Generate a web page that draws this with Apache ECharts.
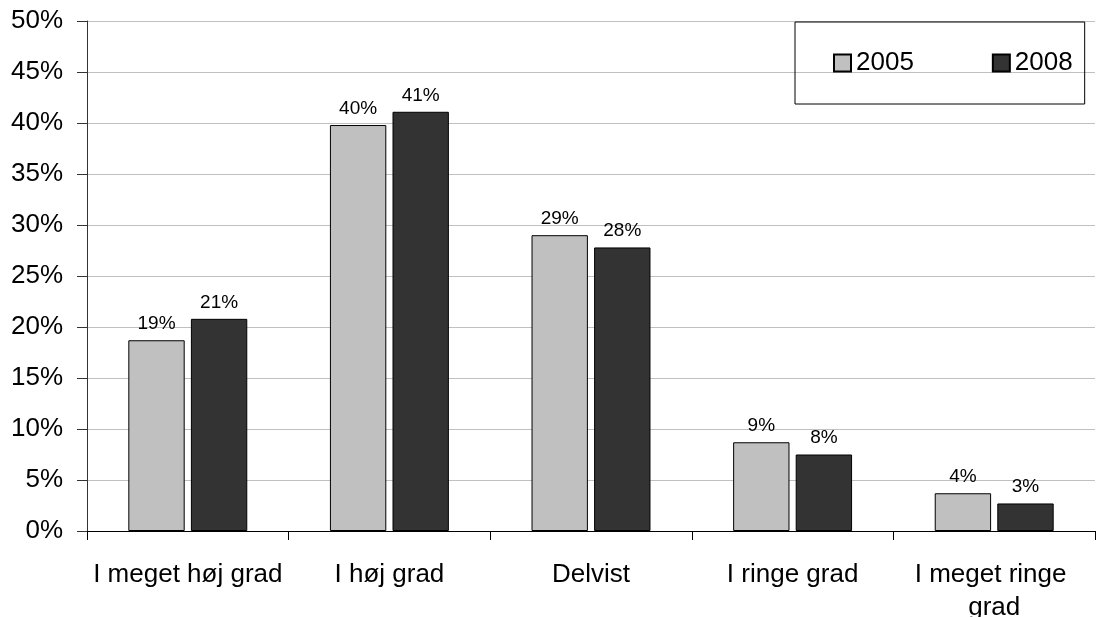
<!DOCTYPE html>
<html>
<head>
<meta charset="utf-8">
<script src="https://cdn.jsdelivr.net/npm/echarts@6/dist/echarts.min.js"></script>
<style>
  html, body { margin: 0; padding: 0; background: #fff; }
  #chart { width: 1099px; height: 617px; }
</style>
</head>
<body>
<div id="chart"></div>
<script>
// categories and values (percent)
var categories = ["I meget høj grad", "I høj grad", "Delvist", "I ringe grad", "I meget ringe grad"];
var seriesNames = ["2005", "2008"];
var values2005 = [18.7, 39.8, 29.0, 8.7, 3.7];
var values2008 = [20.8, 41.1, 27.8, 7.5, 2.7];
var colors = ["#c0c0c0", "#333333"];

var font = "Liberation Sans, Arial, sans-serif";

function makeSeries(name, data, color) {
	return {
		name: name,
		type: "bar",
		data: data,
		barGap: "11%",
		barCategoryGap: "41%",
		itemStyle: {
			color: color,
			borderColor: "#000",
			borderWidth: 1,
		},
		label: {
			show: true,
			position: "top",
			distance: 7,
			color: "#000",
			fontSize: 19,
			fontFamily: font,
			formatter: function (p) {
				return Math.round(p.value) + "%";
			},
		},
	};
}

var myChart = echarts.init(document.getElementById("chart"));
myChart.setOption({
	animation: false,
	backgroundColor: "#fff",
	textStyle: { fontFamily: font },
	grid: {
		left: 87,
		right: 4,
		top: 21,
		bottom: 86,
		outerBoundsMode: "none",
		containLabel: false,
	},
	legend: {
		orient: "horizontal",
		left: 795,
		top: 22,
		padding: [28, 12, 28, 38],
		borderColor: "#000",
		borderWidth: 1,
		itemWidth: 17,
		itemHeight: 17,
		itemGap: 78,
		icon: "rect",
		textStyle: {
			fontSize: 26,
			color: "#000",
			fontFamily: font,
		},
		data: seriesNames,
	},
	xAxis: {
		type: "category",
		data: categories,
		axisLine: { lineStyle: { color: "#000", width: 1 } },
		axisTick: { show: true, length: 9, lineStyle: { color: "#000" } },
		axisLabel: {
			color: "#000",
			fontSize: 26,
			fontFamily: font,
			margin: 27,
			width: 200,
			overflow: "break",
			lineHeight: 33,
			interval: 0,
		},
	},
	yAxis: {
		type: "value",
		min: 0,
		max: 50,
		interval: 5,
		axisLine: { show: true, lineStyle: { color: "#333", width: 1 } },
		axisTick: { show: true, length: 10, lineStyle: { color: "#333" } },
		splitLine: { lineStyle: { color: "#c0c0c0", width: 1 } },
		axisLabel: {
			color: "#000",
			fontSize: 26,
			fontFamily: font,
			margin: 24,
			formatter: "{value}%",
		},
	},
	series: [
		makeSeries(seriesNames[0], values2005, colors[0]),
		makeSeries(seriesNames[1], values2008, colors[1]),
	],
});
</script>
</body>
</html>
